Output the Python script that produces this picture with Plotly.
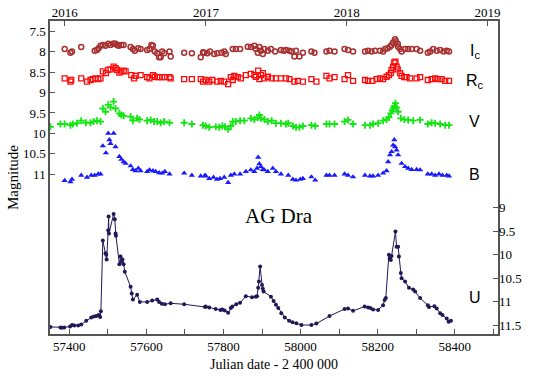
import plotly.graph_objects as go

# Ic photometry (JD - 2400000, mag)
ic_jd = [57388, 57403, 57407, 57431, 57466, 57472, 57476, 57481, 57487, 57494, 57501, 57507,
         57515, 57520, 57524, 57528, 57535, 57541, 57559, 57565, 57570, 57579, 57585, 57602,
         57608, 57613, 57617, 57622, 57628, 57633, 57637, 57641, 57646, 57660, 57663, 57698,
         57718, 57741, 57747, 57750, 57758, 57765, 57776, 57784, 57795, 57802, 57806, 57824,
         57832, 57843, 57863, 57871, 57880, 57884, 57889, 57893, 57897, 57902, 57906, 57915,
         57923, 57934, 57949, 57956, 57962, 57971, 57977, 57984, 57988, 57997, 58006, 58028,
         58036, 58067, 58075, 58088, 58114, 58123, 58136, 58167, 58175, 58184, 58193, 58206,
         58214, 58219, 58226, 58232, 58236, 58240, 58245, 58247, 58252, 58253, 58258, 58262,
         58271, 58279, 58288, 58301, 58310, 58330, 58336, 58344, 58353, 58362, 58371, 58379, 58385]
ic_mag = [7.93, 8.02, 7.99, 7.88, 7.97, 7.95, 7.91, 7.85, 7.83, 7.85, 7.80, 7.83,
          7.79, 7.80, 7.83, 7.85, 7.83, 7.83, 7.88, 7.93, 7.97, 7.91, 7.93, 7.95,
          7.93, 7.83, 7.85, 7.99, 8.03, 8.13, 8.13, 7.99, 8.03, 7.99, 8.11, 8.02,
          8.03, 8.13, 8.01, 8.02, 8.03, 7.99, 8.05, 8.03, 8.02, 7.99, 8.05, 7.93,
          7.93, 7.93, 7.87, 7.88, 7.85, 7.93, 8.02, 7.88, 7.97, 8.05, 7.93, 7.97,
          7.93, 7.99, 7.95, 7.97, 7.95, 7.97, 7.99, 8.11, 7.97, 8.11, 8.02, 7.99,
          8.02, 7.99, 7.97, 7.99, 7.93, 7.95, 7.99, 7.99, 7.97, 7.99, 7.97, 7.97,
          7.99, 7.93, 7.91, 7.87, 7.83, 7.77, 7.69, 7.74, 7.80, 7.87, 7.93, 7.99,
          7.93, 7.93, 7.93, 7.93, 7.97, 8.02, 7.99, 7.93, 7.97, 7.95, 7.99, 7.97, 7.99]

# Rc photometry
rc_jd = [57388, 57403, 57405, 57431, 57446, 57455, 57461, 57468, 57475, 57481, 57487, 57495,
         57501, 57507, 57515, 57520, 57524, 57530, 57535, 57541, 57546, 57561, 57568, 57572,
         57585, 57602, 57608, 57617, 57622, 57628, 57634, 57641, 57648, 57660, 57663, 57698,
         57718, 57741, 57747, 57754, 57763, 57771, 57784, 57793, 57802, 57812, 57819, 57824,
         57828, 57837, 57845, 57858, 57871, 57880, 57884, 57890, 57893, 57897, 57902, 57906,
         57915, 57925, 57936, 57949, 57962, 57971, 57984, 57993, 58006, 58028, 58041, 58067,
         58075, 58088, 58114, 58123, 58136, 58167, 58175, 58186, 58197, 58206, 58214, 58223,
         58229, 58234, 58236, 58240, 58243, 58246, 58249, 58252, 58258, 58262, 58269, 58275,
         58284, 58301, 58310, 58330, 58340, 58349, 58357, 58366, 58375, 58385]
rc_mag = [8.65, 8.73, 8.69, 8.65, 8.73, 8.69, 8.67, 8.65, 8.67, 8.65, 8.48, 8.52,
          8.44, 8.43, 8.36, 8.40, 8.44, 8.51, 8.48, 8.46, 8.48, 8.57, 8.65, 8.59,
          8.57, 8.62, 8.65, 8.57, 8.61, 8.62, 8.62, 8.62, 8.62, 8.62, 8.65, 8.67,
          8.67, 8.67, 8.73, 8.69, 8.73, 8.69, 8.73, 8.71, 8.73, 8.79, 8.62, 8.69,
          8.59, 8.62, 8.65, 8.57, 8.54, 8.57, 8.61, 8.46, 8.67, 8.57, 8.52, 8.65,
          8.61, 8.65, 8.65, 8.65, 8.65, 8.67, 8.73, 8.71, 8.73, 8.67, 8.73, 8.59,
          8.65, 8.62, 8.67, 8.57, 8.71, 8.69, 8.71, 8.71, 8.67, 8.65, 8.67, 8.61,
          8.57, 8.52, 8.44, 8.36, 8.26, 8.24, 8.36, 8.43, 8.52, 8.59, 8.62, 8.62,
          8.65, 8.65, 8.62, 8.69, 8.67, 8.65, 8.67, 8.67, 8.71, 8.71]

# V photometry
v_jd = [57351, 57377, 57388, 57403, 57409, 57420, 57431, 57443, 57455, 57463, 57472, 57481,
        57487, 57494, 57501, 57507, 57515, 57520, 57530, 57535, 57541, 57559, 57565, 57576,
        57582, 57602, 57611, 57620, 57628, 57637, 57646, 57660, 57698, 57718, 57747, 57754,
        57763, 57780, 57789, 57797, 57804, 57812, 57819, 57824, 57832, 57843, 57854, 57871,
        57880, 57889, 57893, 57897, 57906, 57915, 57925, 57936, 57949, 57962, 57968, 57980,
        57988, 57997, 58006, 58028, 58038, 58067, 58075, 58088, 58114, 58123, 58136, 58167,
        58180, 58188, 58201, 58214, 58223, 58229, 58234, 58238, 58240, 58243, 58246, 58249,
        58253, 58260, 58269, 58279, 58292, 58310, 58330, 58340, 58349, 58362, 58375, 58385]
v_mag = [9.84, 9.77, 9.77, 9.80, 9.77, 9.75, 9.69, 9.74, 9.74, 9.71, 9.69, 9.71,
         9.39, 9.47, 9.30, 9.36, 9.22, 9.39, 9.51, 9.55, 9.57, 9.59, 9.69, 9.63,
         9.66, 9.69, 9.67, 9.71, 9.71, 9.74, 9.71, 9.74, 9.74, 9.77, 9.80, 9.82,
         9.85, 9.84, 9.85, 9.82, 9.84, 9.90, 9.82, 9.71, 9.71, 9.69, 9.69, 9.63,
         9.66, 9.61, 9.55, 9.63, 9.66, 9.71, 9.69, 9.75, 9.75, 9.77, 9.75, 9.82,
         9.85, 9.85, 9.82, 9.80, 9.82, 9.77, 9.77, 9.77, 9.71, 9.67, 9.77, 9.80,
         9.80, 9.77, 9.75, 9.69, 9.66, 9.61, 9.51, 9.44, 9.39, 9.33, 9.26, 9.36,
         9.47, 9.63, 9.66, 9.67, 9.69, 9.67, 9.77, 9.74, 9.75, 9.77, 9.80, 9.80]

# B photometry
b_jd = [57388, 57403, 57407, 57431, 57446, 57457, 57466, 57475, 57481, 57487, 57495, 57501,
        57504, 57507, 57515, 57520, 57530, 57535, 57541, 57546, 57559, 57565, 57572, 57579,
        57585, 57602, 57608, 57617, 57624, 57633, 57641, 57648, 57660, 57698, 57718, 57741,
        57752, 57754, 57763, 57774, 57783, 57791, 57802, 57812, 57819, 57828, 57843, 57858,
        57871, 57880, 57887, 57890, 57893, 57897, 57902, 57906, 57915, 57928, 57936, 57949,
        57968, 57980, 57988, 57999, 58006, 58028, 58038, 58067, 58075, 58088, 58114, 58123,
        58136, 58167, 58180, 58188, 58201, 58214, 58223, 58227, 58232, 58236, 58240, 58243,
        58245, 58249, 58253, 58262, 58271, 58279, 58288, 58301, 58310, 58330, 58340, 58349,
        58359, 58368, 58379, 58385]
b_mag = [11.16, 11.19, 11.13, 11.03, 11.08, 11.03, 11.03, 11.00, 11.00, 10.31, 10.48, 10.00,
         10.16, 10.25, 10.00, 10.33, 10.57, 10.64, 10.70, 10.74, 10.80, 10.89, 10.92, 10.86,
         10.92, 10.94, 10.90, 10.92, 10.94, 10.97, 10.98, 10.94, 11.00, 10.98, 11.03, 11.05,
         11.03, 11.05, 11.11, 11.08, 11.13, 11.11, 11.08, 11.21, 11.03, 11.00, 11.00, 10.94,
         10.90, 10.94, 10.86, 10.59, 10.75, 10.82, 10.89, 10.90, 10.94, 10.86, 10.94, 11.00,
         11.03, 11.13, 11.15, 11.13, 11.11, 11.07, 11.15, 11.03, 11.03, 11.03, 11.00, 11.03,
         11.07, 11.03, 11.05, 11.05, 11.03, 10.98, 10.92, 10.70, 10.53, 10.45, 10.29, 10.16,
         10.33, 10.41, 10.53, 10.74, 10.82, 10.86, 10.89, 10.89, 10.90, 11.00, 11.00, 11.03,
         11.00, 11.03, 11.03, 11.05]

# U photometry (right axis)
u_jd = [57351, 57377, 57381, 57387, 57402, 57407, 57413, 57423, 57431, 57444, 57457, 57464,
        57470, 57476, 57480, 57482, 57487, 57494, 57496, 57497, 57501, 57502, 57503, 57515,
        57518, 57520, 57521, 57530, 57533, 57536, 57538, 57541, 57544, 57559, 57562, 57565,
        57576, 57583, 57602, 57615, 57628, 57633, 57640, 57648, 57663, 57698, 57752, 57754,
        57763, 57780, 57792, 57797, 57803, 57812, 57819, 57823, 57833, 57843, 57858, 57874,
        57884, 57887, 57890, 57892, 57895, 57900, 57902, 57904, 57923, 57930, 57936, 57942,
        57950, 57959, 57970, 57979, 57989, 58002, 58028, 58041, 58075, 58114, 58123, 58136,
        58166, 58175, 58181, 58188, 58201, 58214, 58218, 58221, 58229, 58231, 58234, 58236,
        58246, 58249, 58253, 58255, 58260, 58262, 58271, 58281, 58292, 58297, 58310, 58330,
        58333, 58347, 58353, 58362, 58368, 58379, 58384, 58390]
u_mag = [11.53, 11.54, 11.55, 11.54, 11.52, 11.49, 11.50, 11.50, 11.48, 11.40, 11.33, 11.31,
         11.30, 11.28, 11.32, 11.20, 9.70, 9.97, 10.00, 10.10, 9.48, 9.19, 9.55, 9.14,
         9.25, 9.55, 9.60, 10.20, 10.04, 10.15, 10.10, 10.20, 10.36, 10.68, 10.82, 10.95,
         10.85, 11.00, 11.00, 10.97, 10.95, 11.00, 11.04, 11.05, 11.03, 11.05, 11.11, 11.10,
         11.12, 11.15, 11.17, 11.16, 11.18, 11.23, 11.13, 11.10, 11.05, 11.02, 10.88, 10.90,
         10.89, 10.88, 10.70, 10.57, 10.25, 10.64, 10.72, 10.78, 10.89, 10.98, 11.06, 11.13,
         11.24, 11.33, 11.40, 11.43, 11.45, 11.49, 11.49, 11.46, 11.30, 11.15, 11.14, 11.19,
         11.10, 11.12, 11.13, 11.16, 11.17, 11.07, 10.96, 10.92, 10.00, 10.08, 10.11, 10.03,
         9.51, 9.83, 9.83, 10.04, 10.39, 10.50, 10.57, 10.70, 10.74, 10.78, 10.92, 11.07,
         11.11, 11.09, 11.14, 11.24, 11.28, 11.35, 11.42, 11.40]

year_jd = [57388.5, 57754.5, 58119.5, 58484.5]
year_labels = ["2016", "2017", "2018", "2019"]

serif = "Liberation Serif"
sans = "Liberation Sans"
tick_font = dict(family=serif, size=13, color="black")

fig = go.Figure()

fig.add_trace(go.Scatter(x=ic_jd, y=ic_mag, mode="markers",
                         marker=dict(symbol="circle-open", size=5, color="#a83030", line=dict(width=1.5))))
fig.add_trace(go.Scatter(x=rc_jd, y=rc_mag, mode="markers",
                         marker=dict(symbol="square-open", size=5, color="#ff0a0a", line=dict(width=1.3))))
fig.add_trace(go.Scatter(x=v_jd, y=v_mag, mode="markers",
                         marker=dict(symbol="cross-thin-open", size=5, color="#14e614", line=dict(width=1.8))))
fig.add_trace(go.Scatter(x=b_jd, y=b_mag, mode="markers",
                         marker=dict(symbol="triangle-up", size=5.5, color="#1a1aff")))
fig.add_trace(go.Scatter(x=u_jd, y=u_mag, mode="lines+markers", yaxis="y2",
                         line=dict(color="#231856", width=1),
                         marker=dict(symbol="circle", size=4, color="#231856")))
# invisible trace so the top (year) axis gets drawn
fig.add_trace(go.Scatter(x=year_jd, y=[8, 8, 8, 8], xaxis="x2", mode="markers",
                         marker=dict(opacity=0), hoverinfo="skip"))

for txt, yv in [("I<sub>c</sub>", 7.98), ("R<sub>c</sub>", 8.72), ("V", 9.72), ("B", 11.0)]:
    fig.add_annotation(x=58452, y=yv, xref="x", yref="y", text=txt, showarrow=False,
                       font=dict(family=sans, size=16, color="black"))
fig.add_annotation(x=58452, y=10.9, xref="x", yref="y2", text="U", showarrow=False,
                   font=dict(family=sans, size=16, color="black"))
fig.add_annotation(x=57944, y=9.17, xref="x", yref="y2", text="AG Dra", showarrow=False,
                   font=dict(family=serif, size=21, color="black"))

axis_line = "#555555"
fig.update_layout(
    width=538, height=377,
    margin=dict(l=50, r=40, t=21, b=43),
    paper_bgcolor="white", plot_bgcolor="white",
    showlegend=False,
    font=dict(family=serif, size=13, color="black"),
    xaxis=dict(range=[57350, 58512], tick0=57400, dtick=200, tickformat="d",
               ticks="inside", ticklen=5, tickfont=tick_font, automargin=False,
               tickcolor=axis_line, showline=True, linecolor=axis_line, linewidth=1.5,
               mirror=True, showgrid=False, zeroline=False,
               minor=dict(dtick=100, ticks="inside", ticklen=5, tickcolor=axis_line),
               title=dict(text="Julian date - 2 400 000", font=dict(family=serif, size=14),
                          standoff=6)),
    xaxis2=dict(range=[57350, 58512], overlaying="x", side="top", tickvals=year_jd,
                ticktext=year_labels, ticks="inside", ticklen=5, tickcolor=axis_line,
                tickfont=tick_font, automargin=False,
                showgrid=False, zeroline=False, showline=False),
    yaxis=dict(range=[14.93, 7.24], tickvals=[7.5, 8, 8.5, 9, 9.5, 10, 10.5, 11],
               ticktext=["7.5", "8", "8.5", "9", "9.5", "10", "10.5", "11"],
               ticks="inside", ticklen=5, tickcolor=axis_line, showline=True,
               tickfont=tick_font, automargin=False,
               linecolor=axis_line, linewidth=1.5, mirror=True, showgrid=False,
               zeroline=False,
               title=dict(text="Magnitude", font=dict(family=serif, size=15), standoff=1)),
    yaxis2=dict(range=[11.68, 5.05], overlaying="y", side="right",
                tickvals=[9, 9.5, 10, 10.5, 11, 11.5],
                ticktext=["9", "9.5", "10", "10.5", "11", "11.5"],
                tickfont=tick_font, automargin=False,
                ticks="inside", ticklen=5, tickcolor=axis_line, showgrid=False,
                zeroline=False, showline=False),
)

# drop the default 8px body margin so the figure fills the window exactly
fig.write_html("out.html", config={"displayModeBar": False},
               post_script="document.body.style.margin='0';")
